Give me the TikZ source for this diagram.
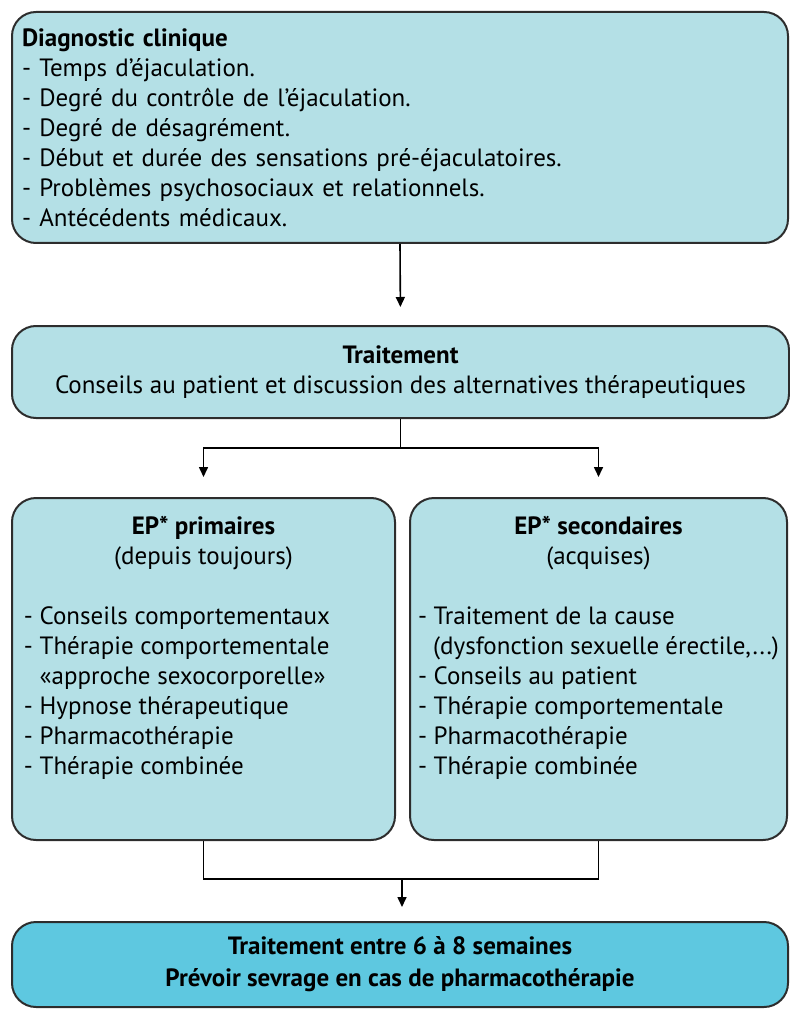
\documentclass[tikz,border=0pt]{standalone}
\usepackage{fontspec}
\setmainfont{PT Sans}
\usetikzlibrary{arrows.meta}

\definecolor{boxfill}{RGB}{180,224,230}
\definecolor{endfill}{RGB}{94,200,224}
\definecolor{boxline}{RGB}{45,45,45}

\begin{document}
\begin{tikzpicture}[x=0.5pt,y=-0.5pt,
	box/.style={draw=boxline,line width=1pt,rounded corners=12pt,fill=boxfill,
		font=\fontsize{12.5}{15}\selectfont},
	link/.style={line width=0.8pt,draw=black},
	arr/.style={link,-{Triangle[length=5pt,width=4.5pt]}}]
	
	\useasboundingbox (0,0) rectangle (790,1010);
	
	\node[box,minimum width=388pt,minimum height=115.5pt,inner xsep=5pt,text width=378pt,align=left] (diag) at (400,127.5)
	{\textbf{Diagnostic clinique}\\
		- Temps d’éjaculation.\\
		- Degré du contrôle de l’éjaculation.\\
		- Degré de désagrément.\\
		- Début et durée des sensations pré-éjaculatoires.\\
		- Problèmes psychosociaux et relationnels.\\
		- Antécédents médicaux.};
	
	\node[box,minimum width=388.5pt,minimum height=46pt,align=center] (trait) at (400.5,372)
	{\textbf{Traitement}\\Conseils au patient et discussion des alternatives thérapeutiques};
	
	\node[box,inner xsep=6pt,inner ysep=9pt] (prim) at (203.5,669)
	{\begin{minipage}[t][153pt][t]{179.5pt}
			\centering\textbf{EP* primaires}\\(depuis toujours)\par
			\vspace{15pt}\raggedright
			- Conseils comportementaux\\
			- Thérapie comportementale\\
			\hphantom{-}~«approche sexocorporelle»\\
			- Hypnose thérapeutique\\
			- Pharmacothérapie\\
			- Thérapie combinée
	\end{minipage}};
	
	\node[box,inner xsep=4pt,inner ysep=9pt] (sec) at (598.5,669)
	{\begin{minipage}[t][153pt][t]{180.5pt}
			\centering\textbf{EP* secondaires}\\(acquises)\par
			\vspace{15pt}\raggedright
			- Traitement de la cause\\
			\hphantom{-}~(dysfonction sexuelle érectile,...)\\
			- Conseils au patient\\
			- Thérapie comportementale\\
			- Pharmacothérapie\\
			- Thérapie combinée
	\end{minipage}};
	
	\node[box,fill=endfill,minimum width=388pt,minimum height=42.5pt,align=center,font=\fontsize{12.5}{16}\selectfont\bfseries] (final) at (400,964.5)
	{Traitement entre 6 à 8 semaines\\Prévoir sevrage en cas de pharmacothérapie};
	
	\coordinate (split) at ([yshift=-14.5pt]trait.south);
	\coordinate (merge) at (402,879);
	
	\draw[arr,shorten >=9pt] (diag.south) -- (trait.north);
	\draw[link] (trait.south) -- (split);
	\draw[arr,shorten >=10pt] (split) -| (prim.north);
	\draw[arr,shorten >=10pt] (split) -| (sec.north);
	\draw[link] (prim.south) |- (merge) -| (sec.south);
	\draw[arr,shorten >=7pt] (merge) -- (merge |- final.north);
\end{tikzpicture}
\end{document}
